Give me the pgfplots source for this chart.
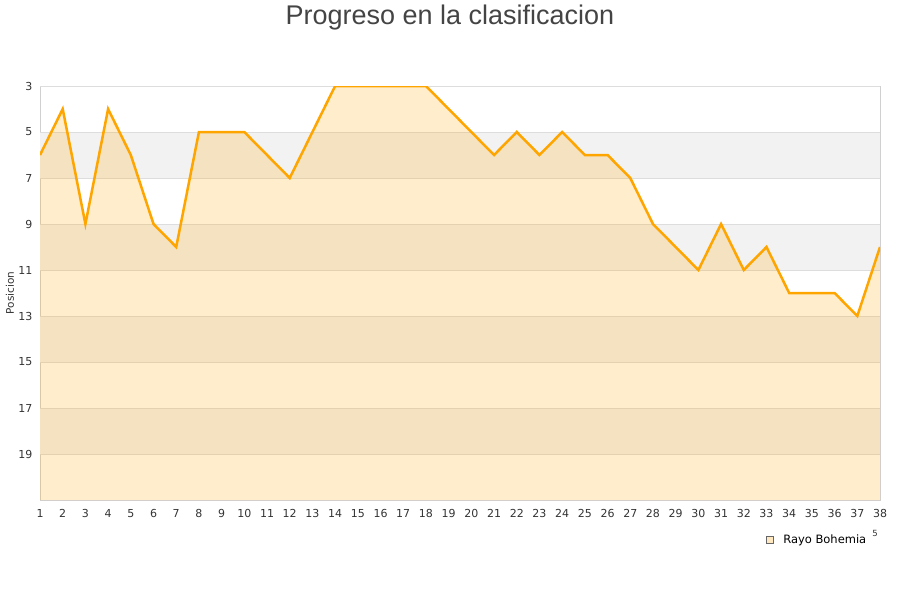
\documentclass[border=0pt]{standalone}
\usepackage{fontspec}
\setmainfont{DejaVu Sans}
\newfontfamily\titlefont{Liberation Sans}
\usepackage{pgfplots}
\usepackage{pgfplotstable}
\pgfplotsset{compat=1.18}
\definecolor{lineorange}{HTML}{FFA500}
\definecolor{bandgray}{HTML}{F2F2F2}
\definecolor{gridgray}{HTML}{DDDDDD}
\definecolor{boxgray}{HTML}{D0D0D0}
\definecolor{ticktext}{HTML}{333333}
\definecolor{titletext}{HTML}{444444}
\pgfplotstableread{
x y
1 6
2 4
3 9
4 4
5 6
6 9
7 10
8 5
9 5
10 5
11 6
12 7
13 5
14 3
15 3
16 3
17 3
18 3
19 4
20 5
21 6
22 5
23 6
24 5
25 6
26 6
27 7
28 9
29 10
30 11
31 9
32 11
33 10
34 12
35 12
36 12
37 13
38 10
}\datatable
\pgfplotstableread{
x y
1 6
2 4
3 9
4 4
5 6
6 9
7 10
8 5
9 5
10 5
11 6
12 7
13 5
14 3
15 3
16 3
17 3
18 3
19 4
20 5
21 6
22 5
23 6
24 5
25 6
26 6
27 7
28 9
29 10
30 11
31 9
32 11
33 10
34 12
35 12
36 12
37 13
38 10
38 21
1 21
}\areatable
\begin{document}
\begin{tikzpicture}
\node[font=\titlefont\fontsize{27}{30}\selectfont, text=titletext, anchor=base] at (450pt,575pt) {Progreso en la clasificacion};
\begin{axis}[
  at={(40pt,100pt)}, anchor=south west,
  scale only axis, width=840pt, height=414pt,
  xmin=1, xmax=38, ymin=3, ymax=21,
  y dir=reverse,
  xtick={1,...,38},
  ytick={3,5,...,19},
  major tick length=0pt,
  axis line style={boxgray, line width=0.8pt},
  /pgf/number format/assume math mode=true,
  ticklabel style={font=\fontsize{11}{13}\selectfont, text=ticktext},
  xticklabel style={yshift=-6pt},
  yticklabel style={xshift=-4pt},
  ylabel={Posicion},
  ylabel style={font=\fontsize{10.5}{12}\selectfont, text=ticktext, at={(axis description cs:-0.0357,0.5)}, anchor=center},
  legend style={at={(axis description cs:0.9250,-0.0966)}, anchor=center, draw=none, fill=none, font=\fontsize{11.5}{13}\selectfont, legend cell align=left},
  legend image code/.code={\draw[fill=lineorange!25, draw=gray!80!black, line width=0.6pt] (0pt,-3.75pt) rectangle (7.5pt,3.75pt); \path (14pt,0pt);},
]
\addplot[draw=none, fill=bandgray, forget plot] coordinates {(1,5) (38,5) (38,7) (1,7)};
\addplot[draw=none, fill=bandgray, forget plot] coordinates {(1,9) (38,9) (38,11) (1,11)};
\addplot[draw=none, fill=bandgray, forget plot] coordinates {(1,13) (38,13) (38,15) (1,15)};
\addplot[draw=none, fill=bandgray, forget plot] coordinates {(1,17) (38,17) (38,19) (1,19)};
\foreach \g in {3,5,...,19} {
  \edef\tmp{\noexpand\addplot[gridgray, line width=0.8pt, forget plot] coordinates {(1,\g) (38,\g)};}
  \tmp
}
\addplot[draw=none, fill=lineorange, fill opacity=0.2, forget plot] table[x=x,y=y] {\areatable};
\addplot[lineorange, line width=2.5pt, line join=miter, mark=none] table[x=x,y=y] {\datatable};
\addlegendentry{Rayo Bohemia}
\end{axis}
\node[font=\fontsize{8.5}{9}\selectfont, text=ticktext] at (875pt,67pt) {5};
\pgfresetboundingbox
\path[use as bounding box] (0pt,0pt) rectangle (900pt,600pt);
\end{tikzpicture}
\end{document}
